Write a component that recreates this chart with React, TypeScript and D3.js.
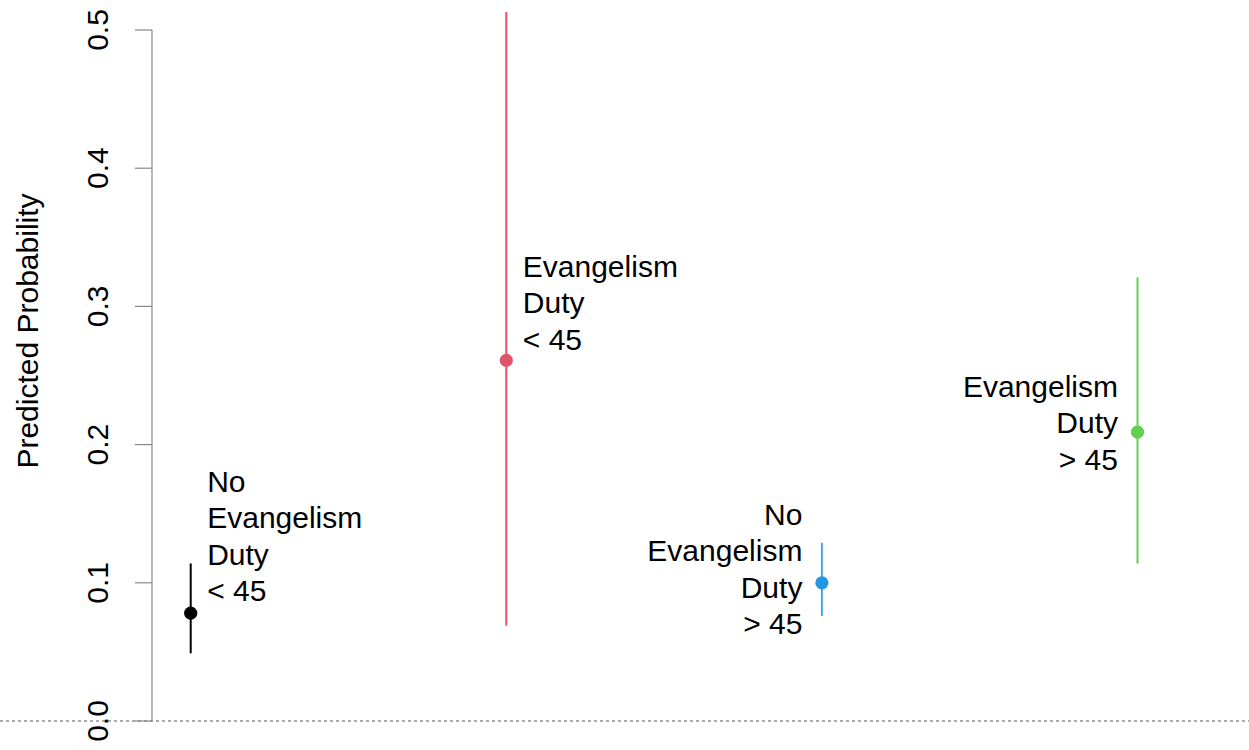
import React from "react";
import * as d3 from "d3";

const categories = ["No Evangelism Duty < 45", "Evangelism Duty < 45", "No Evangelism Duty > 45", "Evangelism Duty > 45"];
const labelLines = [
  ["No", "Evangelism", "Duty", "< 45"],
  ["Evangelism", "Duty", "< 45"],
  ["No", "Evangelism", "Duty", "> 45"],
  ["Evangelism", "Duty", "> 45"],
];
const estimates = [0.078, 0.261, 0.1, 0.209];
const lower = [0.049, 0.069, 0.076, 0.114];
const upper = [0.114, 0.513, 0.129, 0.321];
const labelY = [0.1657, 0.3213, 0.1418, 0.2344];
const labelSide = ["right", "right", "left", "left"];
const colors = ["#000000", "#DF536B", "#2297E6", "#61D04F"];
const yTicks = [0, 0.1, 0.2, 0.3, 0.4, 0.5];

const W = 1249;
const H = 750;
const FONT = "'Liberation Sans', Arial, sans-serif";

export default function App() {
  const y = d3.scaleLinear().domain([0, 0.5]).range([721, 30]);
  const x = d3.scaleLinear().domain([1, 4]).range([190.7, 1137.5]);
  const axisX = 152;
  const lineGap = 36.3;
  const fs = 30;

  return (
    <svg width={W} height={H} style={{ position: "absolute", left: 0, top: 0, background: "#fff" }}>
      <line x1={0} x2={W} y1={y(0)} y2={y(0)} stroke="#555" strokeWidth={1} strokeDasharray="3,3" />
      <line x1={axisX} x2={axisX} y1={y(0.5)} y2={y(0)} stroke="#888" strokeWidth={1.2} />
      {yTicks.map((t) => (
        <g key={t}>
          <line x1={axisX - 17} x2={axisX} y1={y(t)} y2={y(t)} stroke="#888" strokeWidth={1.2} />
          <text
            transform={`translate(108,${y(t)}) rotate(-90)`}
            textAnchor="middle"
            fontFamily={FONT}
            fontSize={fs}
            fill="#000"
          >
            {d3.format(".1f")(t)}
          </text>
        </g>
      ))}
      <text
        transform={`translate(38,331) rotate(-90)`}
        textAnchor="middle"
        fontFamily={FONT}
        fontSize={fs}
        fill="#000"
      >
        Predicted Probability
      </text>
      {categories.map((c, i) => {
        const cx = x(i + 1);
        const right = labelSide[i] === "right";
        const tx = right ? cx + 16.5 : cx - 19.5;
        return (
          <g key={c}>
            <line x1={cx} x2={cx} y1={y(upper[i])} y2={y(lower[i])} stroke={colors[i]} strokeWidth={i === 2 ? 1.6 : 2} />
            <circle cx={cx} cy={y(estimates[i])} r={6.6} fill={colors[i]} />
            <text fontFamily={FONT} fontSize={fs} fill="#000" textAnchor={right ? "start" : "end"}>
              {labelLines[i].map((l, k) => (
                <tspan key={k} x={tx} y={y(labelY[i]) + k * lineGap}>
                  {l}
                </tspan>
              ))}
            </text>
          </g>
        );
      })}
    </svg>
  );
}
